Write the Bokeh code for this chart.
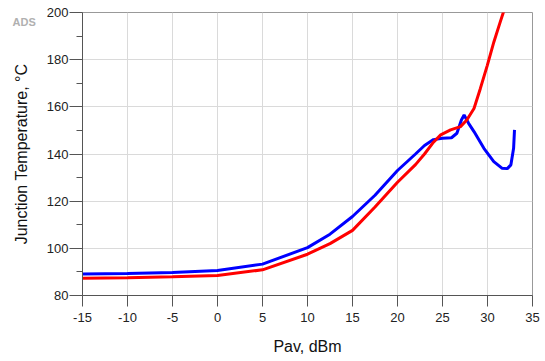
from bokeh.plotting import figure
from bokeh.models import Range1d, FixedTicker, Label, PrintfTickFormatter
from bokeh.embed import file_html
from bokeh.resources import INLINE

# Data
blue_pav = [-15, -10, -5, 0, 5, 10, 12.5, 15, 17.5, 20, 22, 23, 24, 25, 26, 26.6,
            27.1, 27.4, 27.9, 28.5, 29.6, 30.7, 31.6, 32.2, 32.6, 32.9, 33.0]
blue_temp = [89.1, 89.3, 89.8, 90.6, 93.3, 100.3, 106.0, 113.5, 122.5, 133.0, 140.0, 143.6,
             146.1, 146.7, 146.9, 148.8, 154.4, 156.5, 153.0, 149.5, 142.4, 136.8, 134.0,
             133.8, 135.4, 142.4, 150.2]

red_pav = [-15, -10, -5, 0, 5, 10, 12.5, 15, 17.5, 20, 22, 23, 24, 24.8, 25.9, 27.0,
           27.7, 28.5, 29.2, 29.97, 30.7, 31.4, 31.8]
red_temp = [87.3, 87.5, 87.9, 88.5, 90.9, 97.5, 102.0, 107.6, 117.5, 128.0, 135.5, 140.0,
            145.0, 148.1, 150.2, 151.6, 154.4, 159.3, 167.7, 177.5, 187.4, 195.8, 200.5]

x_ticks = [-15, -10, -5, 0, 5, 10, 15, 20, 25, 30, 35]
y_ticks = [80, 100, 120, 140, 160, 180, 200]
y_minor = [90, 110, 130, 150, 170, 190]

FONT = "Liberation Sans"

p = figure(width=545, height=361, output_backend="svg", toolbar_location=None,
           x_range=Range1d(-15, 35), y_range=Range1d(80, 200),
           min_border_left=82, min_border_right=13, min_border_top=10, min_border_bottom=66)

p.background_fill_color = "white"
p.border_fill_color = "white"
p.outline_line_color = "#999999"
p.outline_line_width = 1

p.xaxis.ticker = FixedTicker(ticks=x_ticks)
p.yaxis.ticker = FixedTicker(ticks=y_ticks, minor_ticks=y_minor)
p.xaxis.formatter = PrintfTickFormatter(format="%d")
p.yaxis.formatter = PrintfTickFormatter(format="%d")

for ax in (p.xaxis, p.yaxis):
    ax.axis_line_color = "#555555"
    ax.major_tick_line_color = "#555555"
    ax.minor_tick_line_color = "#555555"
    ax.major_tick_in = 0
    ax.minor_tick_in = 0
    ax.major_label_text_font = FONT
    ax.major_label_text_font_size = "13px"
    ax.major_label_text_color = "#222222"
    ax.axis_label_text_font = FONT
    ax.axis_label_text_font_size = "16px"
    ax.axis_label_text_font_style = "normal"
    ax.axis_label_text_color = "#111111"

p.xaxis.major_tick_out = 11
p.xaxis.minor_tick_out = 0
p.xaxis.major_label_standoff = 6
p.xaxis.axis_label = "Pav, dBm"
p.xaxis.axis_label_standoff = 13

p.yaxis.major_tick_out = 13
p.yaxis.minor_tick_out = 6
p.yaxis.major_label_standoff = 1
p.yaxis.axis_label = "Junction Temperature, °C"
p.yaxis.axis_label_standoff = 14

p.xgrid.grid_line_color = "#dadada"
p.ygrid.grid_line_color = "#dadada"
p.xgrid.ticker = FixedTicker(ticks=x_ticks)
p.ygrid.ticker = FixedTicker(ticks=y_ticks)

p.line(blue_pav, blue_temp, line_color="#0000ff", line_width=3)
p.line(red_pav, red_temp, line_color="#ff0000", line_width=3)

ads = Label(x=12, y=15, x_units="canvas", y_units="canvas", text="ADS",
            text_font=FONT, text_font_size="11px", text_font_style="bold",
            text_color="#b0b0b0", text_baseline="top", text_line_height=0.8)
p.add_layout(ads, "above")

open("out.html", "w").write(file_html(p, INLINE))
